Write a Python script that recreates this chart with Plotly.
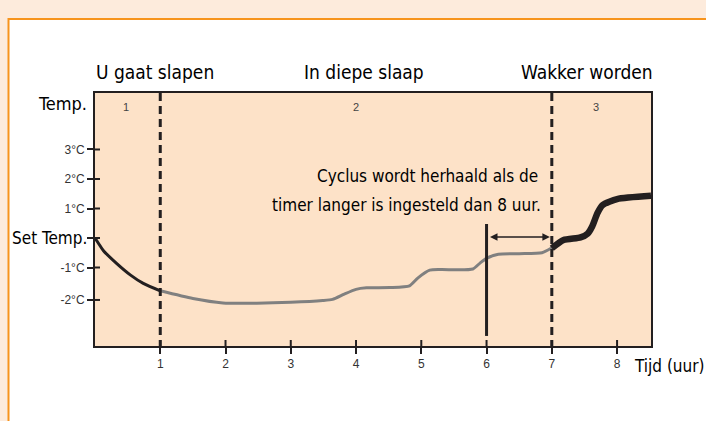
import plotly.graph_objects as go

# ---- data ----
x_ticks = [1, 2, 3, 4, 5, 6, 7, 8]
x_ticktext = ["1", "2", "3", "4", "5", "6", "7", "8"]
y_ticks = [3, 2, 1, 0, -1, -2.1]
y_ticktext = ["3°C", "2°C", "1°C", "", "-1°C", "-2°C"]

phase_labels = ["U gaat slapen", "In diepe slaap", "Wakker worden"]
phase_label_x = [0.92, 4.12, 7.54]
phase_numbers = ["1", "2", "3"]
phase_number_x = [0.47, 4.0, 7.67]
phase_bounds = [1, 7]

seg1_x = [0, 0.05, 0.13, 0.33, 0.54, 0.74, 1.0]
seg1_y = [0, -0.17, -0.43, -0.86, -1.25, -1.54, -1.79]

seg2_x = [1.0, 1.5, 1.96, 2.48, 3.0, 3.49, 3.64, 3.82, 4.0, 4.16, 4.52, 4.82,
          4.95, 5.13, 5.3, 5.79, 5.9, 6.0, 6.18, 6.5, 6.85, 7.0]
seg2_y = [-1.79, -2.05, -2.2, -2.21, -2.18, -2.12, -2.08, -1.9, -1.74, -1.69, -1.68, -1.62,
          -1.35, -1.09, -1.07, -1.05, -0.85, -0.69, -0.55, -0.53, -0.5, -0.33]

seg3_x = [7.0, 7.18, 7.44, 7.55, 7.62, 7.7, 7.78, 8.0, 8.52]
seg3_y = [-0.35, -0.07, 0.02, 0.15, 0.4, 0.85, 1.12, 1.32, 1.43]

cycle_x = 6
cycle_y = [0.475, -3.32]
note_lines = ["Cyclus wordt herhaald als de", "timer langer is ingesteld dan 8 uur."]

X_RANGE = [0, 8.52]
Y_RANGE = [-3.661, 4.915]

NARROW = "Liberation Sans Narrow, DejaVu Sans Condensed, Arial Narrow, sans-serif"
ARIAL = "Liberation Sans, Arial, sans-serif"
INK = "#231f20"

fig = go.Figure()
fig.add_trace(go.Scatter(x=seg1_x, y=seg1_y, mode="lines",
                         line=dict(color=INK, width=3, shape="spline", smoothing=0.8),
                         hoverinfo="skip"))
fig.add_trace(go.Scatter(x=seg2_x, y=seg2_y, mode="lines",
                         line=dict(color="#808080", width=3, shape="spline", smoothing=0.6),
                         hoverinfo="skip"))
fig.add_trace(go.Scatter(x=seg3_x, y=seg3_y, mode="lines",
                         line=dict(color=INK, width=6.5, shape="spline", smoothing=0.6),
                         hoverinfo="skip"))


def px_x(p):
    return (p - 95) / 556.0


def px_y(p):
    return (346 - p) / 253.0


shapes = [
    dict(type="rect", xref="paper", yref="paper", x0=px_x(-2), x1=px_x(710), y0=px_y(19), y1=px_y(-2),
         fillcolor="#fdebdc", line=dict(width=0), layer="below"),
    dict(type="rect", xref="paper", yref="paper", x0=px_x(-2), x1=px_x(8), y0=px_y(425), y1=px_y(19),
         fillcolor="#fdebdc", line=dict(width=0), layer="below"),
    dict(type="line", xref="paper", yref="paper", x0=px_x(8), x1=px_x(710), y0=px_y(19), y1=px_y(19),
         line=dict(color="#f7941d", width=2)),
    dict(type="line", xref="paper", yref="paper", x0=px_x(8.5), x1=px_x(8.5), y0=px_y(18), y1=px_y(425),
         line=dict(color="#f7941d", width=2)),
]
for b in phase_bounds:
    shapes.append(dict(type="line", xref="x", yref="paper", x0=b, x1=b, y0=1, y1=0,
                       line=dict(color=INK, width=3, dash="8px,5px")))
shapes.append(dict(type="line", xref="x", yref="y", x0=cycle_x, x1=cycle_x,
                   y0=cycle_y[0], y1=cycle_y[1], line=dict(color=INK, width=3)))
# inner halves of the crossing tick marks
for v in y_ticks:
    shapes.append(dict(type="line", xref="paper", yref="y", x0=0, x1=5 / 556.0, y0=v, y1=v,
                       line=dict(color=INK, width=2)))
for v in x_ticks:
    shapes.append(dict(type="line", xref="x", yref="paper", x0=v, x1=v, y0=0, y1=6 / 253.0,
                       line=dict(color=INK, width=2)))

annotations = []
for lab, xx in zip(phase_labels, phase_label_x):
    annotations.append(dict(x=xx, y=px_y(72), xref="x", yref="paper", text=lab, showarrow=False,
                            font=dict(family=NARROW, size=19, color="#000"), xanchor="center",
                            yanchor="middle"))
for lab, xx in zip(phase_numbers, phase_number_x):
    annotations.append(dict(x=xx, y=px_y(107), xref="x", yref="paper", text=lab, showarrow=False,
                            font=dict(family=ARIAL, size=11, color="#444"), xanchor="center",
                            yanchor="middle"))
annotations.append(dict(x=px_x(89), y=px_y(103), xref="paper", yref="paper", text="Temp.",
                        showarrow=False, font=dict(family=NARROW, size=18, color="#000"),
                        xanchor="right", yanchor="middle"))
annotations.append(dict(x=px_x(89), y=0, xref="paper", yref="y", text="Set Temp.",
                        showarrow=False, font=dict(family=NARROW, size=17, color="#000"),
                        xanchor="right", yanchor="middle"))
annotations.append(dict(x=px_x(632), y=px_y(366), xref="paper", yref="paper", text="Tijd (uur)",
                        showarrow=False, font=dict(family=NARROW, size=17, color="#000"),
                        xanchor="left", yanchor="middle"))
annotations.append(dict(x=px_x(540), y=px_y(176), xref="paper", yref="paper", text=note_lines[0],
                        showarrow=False, font=dict(family=NARROW, size=17, color="#000"),
                        xanchor="right", yanchor="middle"))
annotations.append(dict(x=px_x(543), y=px_y(205), xref="paper", yref="paper", text=note_lines[1],
                        showarrow=False, font=dict(family=NARROW, size=17, color="#000"),
                        xanchor="right", yanchor="middle"))
annotations.append(dict(x=6.97, y=0.03, ax=6.03, ay=0.03, xref="x", yref="y", axref="x", ayref="y",
                        text="", showarrow=True, arrowhead=2, arrowside="end+start", arrowsize=1,
                        arrowwidth=1.5, arrowcolor=INK))

fig.update_layout(
    width=706, height=421,
    margin=dict(l=95, r=55, t=93, b=75),
    paper_bgcolor="white", plot_bgcolor="#fde2c8",
    showlegend=False,
    shapes=shapes, annotations=annotations,
    xaxis=dict(range=X_RANGE, showgrid=False, zeroline=False, showline=True, mirror=True,
               linecolor=INK, linewidth=2, tickmode="array", tickvals=x_ticks, ticktext=x_ticktext,
               ticks="outside", ticklen=6, tickwidth=2, tickcolor=INK,
               tickfont=dict(family=ARIAL, size=12, color="#333")),
    yaxis=dict(range=Y_RANGE, showgrid=False, zeroline=False, showline=True, mirror=True,
               linecolor=INK, linewidth=2, tickmode="array", tickvals=y_ticks, ticktext=y_ticktext,
               ticks="outside", ticklen=6, tickwidth=2, tickcolor=INK,
               tickfont=dict(family=ARIAL, size=12, color="#333")),
)

fig.write_html("out.html", config={"displayModeBar": False},
               post_script="document.body.style.margin='0';document.body.style.overflow='hidden';")
